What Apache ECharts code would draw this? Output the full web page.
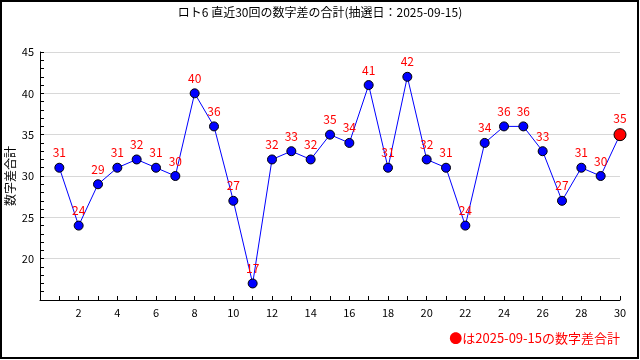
<!DOCTYPE html>
<html>
<head>
<meta charset="utf-8">
<script src="https://cdn.jsdelivr.net/npm/echarts@6/dist/echarts.min.js"></script>
<style>
html,body{margin:0;padding:0;background:#fff;}
#chart{width:640px;height:360px;}
</style>
</head>
<body>
<div id="chart"></div>
<script>
const titleText = 'ロト6 直近30回の数字差の合計(抽選日：2025-09-15)';
const yAxisName = '数字差合計';
const noteText = '●は2025-09-15の数字差合計';
const drawNumbers = [1,2,3,4,5,6,7,8,9,10,11,12,13,14,15,16,17,18,19,20,21,22,23,24,25,26,27,28,29,30];
const diffSums = [31,24,29,31,32,31,30,40,36,27,17,32,33,32,35,34,41,31,42,32,31,24,34,36,36,33,27,31,30,35];

const font = '"Noto Sans CJK JP", "DejaVu Sans", sans-serif';
const seriesData = drawNumbers.map((x, i) => {
  const last = i === drawNumbers.length - 1;
  return last ? {value: [x, diffSums[i]], symbolSize: 12, itemStyle: {color: '#ff0000'}} : {value: [x, diffSums[i]]};
});

const chart = echarts.init(document.getElementById('chart'), null, {renderer: 'canvas'});
chart.setOption({
  animation: false,
  backgroundColor: '#fff',
  title: {
    text: titleText, left: 'center', top: 1,
    textStyle: {fontFamily: font, fontSize: 12, fontWeight: 'normal', color: '#000'}
  },
  grid: {left: 40, right: 20, top: 52, bottom: 60, containLabel: false, outerBoundsMode: 'none'},
  xAxis: {
    type: 'value', min: 0, max: 30, interval: 2,
    axisLine: {show: true, lineStyle: {color: '#000', width: 1}},
    axisTick: {show: true, inside: true, length: 4, lineStyle: {color: '#000'}},
    minorTick: {show: true, splitNumber: 2, length: 4, lineStyle: {color: '#000'}},
    splitLine: {show: false},
    axisLabel: {color: '#000', fontFamily: font, fontSize: 11, margin: 7,
      formatter: v => v === 0 ? '' : String(v)}
  },
  yAxis: {
    type: 'value', min: 15, max: 45, interval: 5,
    name: yAxisName, nameLocation: 'middle', nameGap: 24, nameRotate: 90, nameMoveOverlap: false,
    nameTextStyle: {fontFamily: font, fontSize: 12, color: '#000'},
    axisLine: {show: true, lineStyle: {color: '#000', width: 1}},
    axisTick: {show: true, inside: true, length: 4, lineStyle: {color: '#000'}},
    minorTick: {show: true, splitNumber: 5, length: 4, lineStyle: {color: '#000'}},
    splitLine: {show: true, lineStyle: {color: '#d8d8d8', width: 1}},
    axisLabel: {color: '#000', fontFamily: font, fontSize: 11, margin: 6,
      formatter: v => v === 15 ? '' : String(v)}
  },
  series: [{
    type: 'line',
    data: seriesData,
    symbol: 'circle', symbolSize: 9,
    lineStyle: {color: '#0000ff', width: 1},
    itemStyle: {color: '#0000ff', borderColor: '#000', borderWidth: 1},
    label: {show: true, position: 'top', distance: 4, color: '#ff0000', fontFamily: font, fontSize: 12,
      formatter: p => String(p.value[1])},
    emphasis: {disabled: true}
  }],
  graphic: [
    {type: 'rect', shape: {x: 1, y: 1, width: 637, height: 357}, style: {fill: 'none', stroke: '#000', lineWidth: 2}, silent: true},
    {type: 'text', right: 20, top: 332, style: {text: noteText, fill: '#ff0000', font: '13px ' + font}}
  ]
});
</script>
</body>
</html>
